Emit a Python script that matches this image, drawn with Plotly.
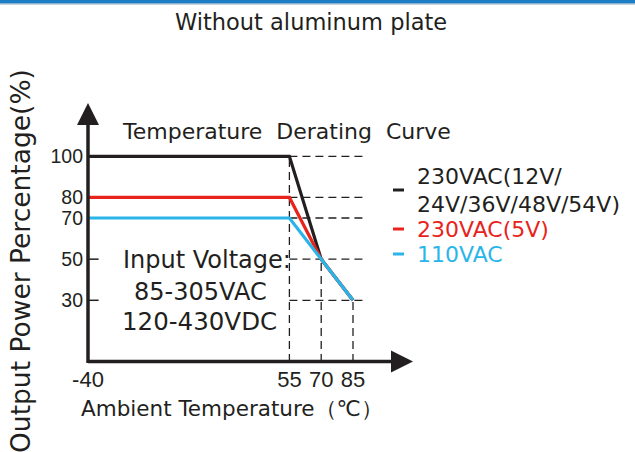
import plotly.graph_objects as go

# ---- data ----
temps_black = [-40, 55, 70, 85]
power_black = [100, 100, 50, 30]
temps_red = [-40, 55, 70, 85]
power_red = [80, 80, 50, 30]
temps_blue = [-40, 55, 85]
power_blue = [70, 70, 30]

series_colors = ["#231f20", "#e8231c", "#2ab5e9"]

x_tickvals = [-40, 55, 70, 85]
x_ticktext = ["-40", "55", "70", "85"]
y_tickvals = [30, 50, 70, 80, 100]
y_ticktext = ["30", "50", "70", "80", "100"]

# guide lines
h_levels = [100, 80, 70, 50, 30]
h_start = 55
h_end = 91.5
v_temps = [55, 70, 85]
v_tops = [100, 50, 30]

W, H = 635, 452
L, R, T, B = 88, 412, 103, 362
x_range = [-40, -40 + (R - L) / 2.12]
y_range = [0, (B - T) / 2.057]

def px(x):
    return (x - L) / (R - L)

def py(y):
    return (B - y) / (B - T)

fig = go.Figure()

# dashed guides
for lv in h_levels:
    fig.add_trace(go.Scatter(x=[h_start, h_end], y=[lv, lv], mode="lines",
                             line=dict(color="#231f20", width=1.3, dash="8px,5px"),
                             hoverinfo="skip", showlegend=False))
for t, top in zip(v_temps, v_tops):
    fig.add_trace(go.Scatter(x=[t, t], y=[0, top], mode="lines",
                             line=dict(color="#231f20", width=1.3, dash="8px,5px"),
                             hoverinfo="skip", showlegend=False))

# y ticks at 50, 30 (short marks)
for lv in [50, 30]:
    fig.add_trace(go.Scatter(x=[-40, -35], y=[lv, lv], mode="lines",
                             line=dict(color="#231f20", width=1.5),
                             hoverinfo="skip", showlegend=False))

for xs, ys, c in [(temps_black, power_black, series_colors[0]),
                  (temps_red, power_red, series_colors[1]),
                  (temps_blue, power_blue, series_colors[2])]:
    fig.add_trace(go.Scatter(x=xs, y=ys, mode="lines",
                             line=dict(color=c, width=3.2),
                             hoverinfo="skip", showlegend=False))

shapes = []
# top blue bar (full width, paper coordinates)
shapes.append(dict(type="line", xref="paper", yref="paper", x0=px(0), x1=px(W), y0=py(1.8), y1=py(1.8),
                   line=dict(color="#1c7cc6", width=4), layer="above"))
shapes.append(dict(type="line", xref="paper", yref="paper", x0=px(0), x1=px(W), y0=py(4.3), y1=py(4.3),
                   line=dict(color="#c9d3dc", width=1.5), layer="above"))
# axes
shapes.append(dict(type="line", xref="paper", yref="paper", x0=px(88), x1=px(400), y0=py(361.5), y1=py(361.5),
                   line=dict(color="#231f20", width=3.5)))
shapes.append(dict(type="line", xref="paper", yref="paper", x0=px(88), x1=px(88), y0=py(363), y1=py(115),
                   line=dict(color="#231f20", width=3.5)))
# arrowheads
shapes.append(dict(type="path", xref="paper", yref="paper",
                   path=f"M {px(391)} {py(350.5)} L {px(413)} {py(361.5)} L {px(391)} {py(372.5)} Z",
                   fillcolor="#231f20", line=dict(width=0)))
shapes.append(dict(type="path", xref="paper", yref="paper",
                   path=f"M {px(77)} {py(125)} L {px(88)} {py(103)} L {px(99)} {py(125)} Z",
                   fillcolor="#231f20", line=dict(width=0)))
# legend dashes
for yy, c in zip([190, 229, 254], series_colors):
    shapes.append(dict(type="line", xref="paper", yref="paper", x0=px(393), x1=px(404), y0=py(yy), y1=py(yy),
                       line=dict(color=c, width=3)))

BODY = "DejaVu Sans, Liberation Sans, sans-serif"
ann = []
def text(x, y, s, size, color="#231f20", family=BODY, xanchor="left", angle=0):
    ann.append(dict(xref="paper", yref="paper", x=px(x), y=py(y), text=s, showarrow=False,
                    font=dict(size=size, color=color, family=family), xanchor=xanchor, yanchor="middle",
                    textangle=angle))

text(311, 22, "Without aluminum plate", 22.5, xanchor="center")
text(120, 131, "Temperature&nbsp;&nbsp;Derating&nbsp;&nbsp;Curve", 22)
text(121, 260, "Input Voltage:", 24)
text(200, 292, "85-305VAC", 24, xanchor="center")
text(199, 321, "120-430VDC", 24.5, xanchor="center")
text(232, 408, "Ambient Temperature（℃）", 21.5, xanchor="center")
text(20, 261, "Output Power Percentage(%)", 26.5, xanchor="center", angle=-90)
text(415, 176, "230VAC(12V/", 22)
text(415, 204, "24V/36V/48V/54V)", 22)
text(415, 229, "230VAC(5V)", 22, color=series_colors[1])
text(415, 254, "110VAC", 22, color=series_colors[2])

TICKF = "Liberation Sans, Arial, sans-serif"
fig.update_layout(
    width=W, height=H,
    margin=dict(l=L, r=W - R, t=T, b=H - B, pad=0),
    paper_bgcolor="rgba(0,0,0,0)", plot_bgcolor="rgba(0,0,0,0)",
    shapes=shapes, annotations=ann,
    xaxis=dict(range=x_range, showgrid=False, zeroline=False, showline=False,
               tickmode="array", tickvals=x_tickvals, ticktext=x_ticktext, ticks="",
               ticklabelstandoff=2,
               tickfont=dict(size=22, color="#231f20", family=TICKF)),
    yaxis=dict(range=y_range, showgrid=False, zeroline=False, showline=False,
               tickmode="array", tickvals=y_tickvals, ticktext=y_ticktext, ticks="",
               ticklabelstandoff=4,
               tickfont=dict(size=19.5, color="#231f20", family=TICKF)),
    showlegend=False,
)

page_css = (
    "document.documentElement.style.margin='0';"
    "document.body.style.margin='0';document.body.style.padding='0';"
    "document.body.style.background='linear-gradient(to bottom, #1c7cc6 0px, #1c7cc6 3px, #c9d3dc 3px, #c9d3dc 4.5px, #ffffff 4.5px)';"
    "document.body.style.backgroundRepeat='no-repeat';"
    "document.documentElement.style.background='#ffffff';"
)
fig.write_html("out.html", config={"displayModeBar": False}, post_script=page_css)
